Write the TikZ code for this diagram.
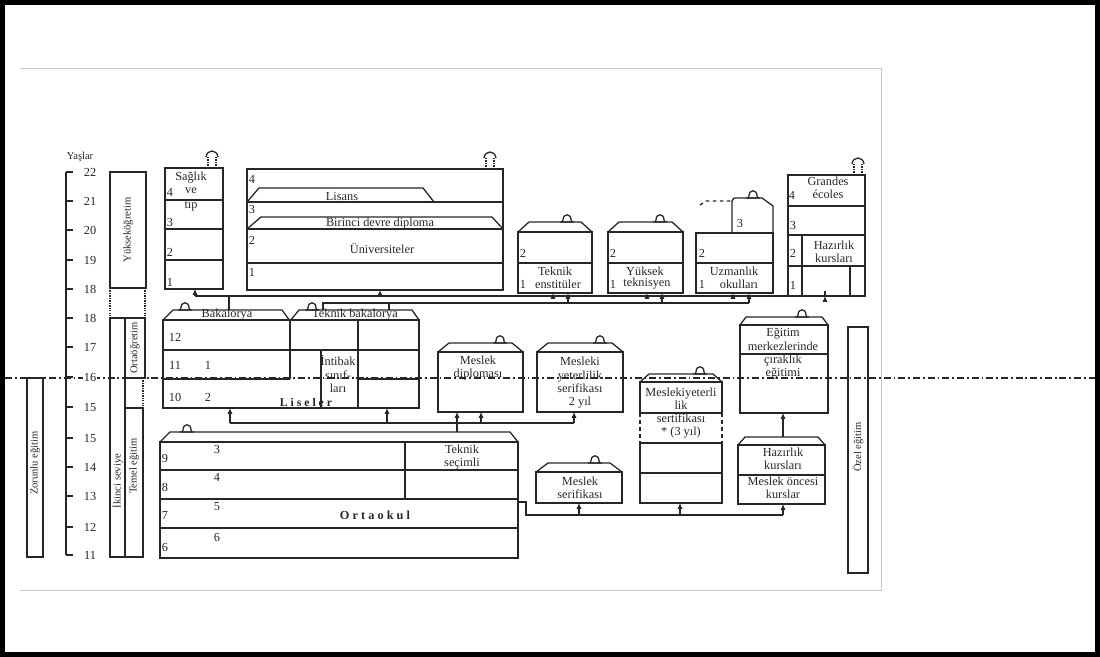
\documentclass[tikz,border=0pt]{standalone}
\usepackage{fontspec}
\setmainfont{Liberation Serif}
\usetikzlibrary{arrows.meta,positioning,calc,fit}

\begin{document}
\begin{tikzpicture}[
    x=0.03cm, y=-0.03cm,
    font=\fontsize{10.5}{11.4}\selectfont,
    ink/.style={draw=black!85, line width=1.1pt},
    box/.style={ink, inner sep=0pt, outer sep=0pt},
    hid/.style={inner sep=0pt, outer sep=0pt},
    arr/.style={ink, -{Latex[length=5pt,width=4.5pt]}},
    lbl/.style={inner sep=0pt, text=black!85, align=center},
    side/.style={lbl, rotate=90, font=\fontsize{9}{9}\selectfont},
    page/.style={draw=black!22, line width=0.6pt},
    dots/.style={ink, densely dotted},
    age16/.style={ink, line width=1.2pt, dash pattern=on 6pt off 2.5pt on 1.5pt off 2.5pt}
  ]
    \useasboundingbox (0,0) rectangle (1100,657);
    \draw[line width=4.2pt] (2.5,2.5) rectangle (1097.5,654.5);
    % edges of the scanned page
    \draw[page] (20,68) -- (881,68) -- (881,590) -- (20,590);

    % age scale
    \node[lbl, font=\fontsize{9}{9}\selectfont] (yas) at (80,157) {Yaşlar};
    \draw[ink] (66,172) -- (66,555);
    \draw[age16] (5,378) -- (1095,378);
    \foreach \y/\a [count=\i] in {172/22,201/21,230/20,260/19,289/18,318/18,347/17,
        377/16,407/15,438/15,467/14,496/13,527/12,555/11} {
      \draw[ink] (66,\y) -- (73,\y);
      \node[lbl, fill=white, inner sep=1pt] (age\i) at (90,\y) {\a};
    }

    % levels on the left and right
    \node[box, fit={(110,172) (146,288)}] (ykt) {};
    \node[side] (ykt-t) at (ykt.center) {Yükseköğretim};
    \draw[dots] (110,288) -- (110,318) (145,288) -- (145,318);
    \node[box, fit={(110,318) (125,557)}] (iki) {};
    \node[side] (iki-t) at (117.5,481) {İkinci seviye};
    \node[box, fit={(125,318) (145,378)}] (ort) {};
    \node[side] (ort-t) at (ort.center) {Ortaöğretim};
    \draw[dots] (143,378) -- (143,408);
    \node[box, fit={(125,408) (143,557)}] (tem) {};
    \node[side] (tem-t) at (134,466) {Temel eğitim};
    \node[box, fit={(27,378) (43,557)}] (zor) {};
    \node[side] (zor-t) at (35,463) {Zorunlu eğitim};
    \node[box, fit={(848,327) (868,573)}] (ozel) {};
    \node[side] (ozel-t) at (858,447) {Özel eğitim};

    % higher education
    \node[box, fit={(165,168) (223,289)}] (sag) {};
    \draw[ink] (165,200) -- (223,200) (165,229) -- (223,229) (165,260) -- (223,260);
    \node[lbl] (sag-t) at (191,178) {Sağlık};
    \node[lbl] (sag-ve) at (191,191) {ve};
    \node[lbl] (sag-tip) at (191,206) {tıp};
    \node[lbl] (sag4) at (170,192) {4};
    \node[lbl] (sag3) at (170,222) {3};
    \node[lbl] (sag2) at (170,252) {2};
    \node[lbl] (sag1) at (170,282) {1};

    \node[box, fit={(247,169) (503,290)}] (uni) {};
    \draw[ink] (247,202) -- (503,202) (247,229) -- (503,229) (247,263) -- (503,263);
    \draw[ink] (247,202) -- (259,188) -- (423,188) -- (434,202);
    \draw[ink] (247,229) -- (261,217) -- (492,217) -- (503,229);
    \node[lbl] (uni4) at (252,179) {4};
    \node[lbl] (uni3) at (252,209) {3};
    \node[lbl] (uni2) at (252,240) {2};
    \node[lbl] (uni1) at (252,272) {1};
    \node[lbl] (lis) at (342,196) {Lisans};
    \node[lbl] (bdd) at (380,224) {Birinci devre diploma};
    \node[lbl] (uni-t) at (382,249) {Üniversiteler};

    \node[box, fit={(518,232) (592,293)}] (tek) {};
    \node[box, fit={(608,232) (683,293)}] (yuk) {};
    \node[box, fit={(696,233) (773,293)}] (uzm) {};
    \draw[ink] (518,263) -- (592,263) (608,263) -- (683,263) (696,263) -- (773,263);
    \node[lbl] (tek2) at (523,253) {2};
    \node[lbl] (tek1) at (523,284) {1};
    \node[lbl] (tek-t) at (555,271) {Teknik};
    \node[lbl] (tek-u) at (558,284) {enstitüler};
    \node[lbl] (yuk2) at (613,253) {2};
    \node[lbl] (yuk1) at (613,284) {1};
    \node[lbl] (yuk-t) at (645,271) {Yüksek};
    \node[lbl] (yuk-u) at (647,284) {teknisyen};
    \node[lbl] (uzm2) at (702,253) {2};
    \node[lbl] (uzm1) at (702,284) {1};
    \node[lbl] (uzm-t) at (734,271) {Uzmanlık};
    \node[lbl] (uzm-u) at (739,284) {okulları};
    \draw[ink, dashed] (700,205) -- (706,201) -- (732,201);
    \draw[ink] (732,233) -- (732,201) -- (734,198) -- (762,198) -- (773,206) -- (773,233);
    \node[lbl] (uzm3) at (740,223) {3};

    \node[box, fit={(788,175) (865,296)}] (gra) {};
    \draw[ink] (788,206) -- (865,206) (788,235) -- (865,235) (788,266) -- (865,266)
      (802,235) -- (802,296) (850,266) -- (850,296);
    \node[lbl] (gra-t) at (828,188) {Grandes\\écoles};
    \node[lbl] (gra4) at (792,195) {4};
    \node[lbl] (gra3) at (793,225) {3};
    \node[lbl] (gra2) at (793,253) {2};
    \node[lbl] (gra1) at (793,285) {1};
    \node[lbl] (gra-h) at (834,252) {Hazırlık\\kursları};

    % secondary education
    \node[box, fit={(163,320) (419,408)}] (lise) {};
    \draw[ink] (lise.north west) -- (173,310) -- (282,310) -- (290,321) -- (299,310)
      -- (412,310) -- (lise.north east);
    \draw[ink] (163,350) -- (419,350) (163,379) -- (290,379) (358,379) -- (419,379)
      (290,321) -- (290,379) (321,350) -- (321,408) (358,320) -- (358,408);
    \node[lbl, anchor=base] (bak) at (227,318) {Bakalorya};
    \node[lbl, anchor=base] (tbak) at (355,318) {Teknik bakalorya};
    \node[lbl] (l12) at (175,337) {12};
    \node[lbl] (l11) at (175,365) {11};
    \node[lbl] (l10) at (175,397) {10};
    \node[lbl] (ly1) at (208,365) {1};
    \node[lbl] (ly2) at (208,397) {2};
    \node[lbl] (int) at (338,374) {İntibak\\sınıf-\\ları};
    \node[lbl, font=\bfseries\fontsize{10}{11}\selectfont] (lis-t) at (306,402) {L i s e l e r};

    \node[box, fit={(160,442) (518,558)}] (orta) {};
    \draw[ink] (orta.north west) -- (170,432) -- (510,432) -- (orta.north east);
    \draw[ink] (160,470) -- (518,470) (160,499) -- (518,499) (160,528) -- (518,528)
      (405,442) -- (405,499);
    \foreach \y/\g/\z/\k in {458/9/449/3, 487/8/477/4, 515/7/507/5, 547/6/537/6} {
      \node[lbl] (og\g) at (165,\y) {\g};
      \node[lbl] (oy\k) at (217,\z) {\k};
    }
    \node[lbl, font=\bfseries\fontsize{10.5}{11}\selectfont] (orta-t) at (375,515) {O r t a o k u l};
    \node[lbl] (tsec) at (462,457) {Teknik\\seçimli};

    % vocational branches
    \node[box, fit={(438,352) (523,412)}] (mdip) {};
    \node[lbl] (mdip-t) at (478,368) {Meslek\\diploması};
    \node[box, fit={(537,352) (623,412)}] (myet) {};
    \node[lbl] (myet-t) at (580,383) {Mesleki\\yeterlilik\\serifikası\\2 yıl};
    \node[hid, fit={(640,382) (722,503)}] (myet3) {};
    \draw[ink] (640,413) -- (640,382) -- (722,382) -- (722,413)
      (640,443) -- (640,503) -- (722,503) -- (722,443)
      (640,413) -- (722,413) (640,443) -- (722,443) (640,473) -- (722,473);
    \draw[ink, dashed] (640,413) -- (640,443) (722,413) -- (722,443);
    \node[lbl] (myet3-a) at (681,399) {Meslekiyeterli\\lik};
    \node[lbl] (myet3-b) at (681,426) {sertifikası\\* (3 yıl)};
    \node[box, fit={(740,325) (828,413)}] (egt) {};
    \draw[ink] (740,354) -- (828,354);
    \node[lbl] (egt-t) at (783,354) {Eğitim\\merkezlerinde\\çıraklık\\eğitimi};
    \node[box, fit={(738,445) (825,504)}] (hzr) {};
    \draw[ink] (738,475) -- (825,475);
    \node[lbl] (hzr-t) at (783,459) {Hazırlık\\kursları};
    \node[lbl] (hzr-u) at (783,488) {Meslek öncesi\\kurslar};
    \node[box, fit={(536,472) (622,503)}] (mser) {};
    \node[lbl] (mser-t) at (580,488) {Meslek\\serifikası};

    \foreach \n/\d/\h in {tek/11/10, yuk/11/10, mdip/11/9, myet/11/9, myet3/9/8,
        egt/6/8, hzr/7/8, mser/12/9}
      \draw[ink] (\n.north west) -- ++(\d,-\h) -- ([shift={(-\d,-\h)}]\n.north east)
        -- (\n.north east);

    % exits
    \foreach \x/\y in {185/310, 312/310, 187/432, 567/222, 660/222, 753/198,
        500/343, 600/343, 700/374, 802/317, 595/463}
      \draw[ink] (\x-7,\y) -- (\x+7,\y) (\x-5,\y) -- (\x-4,\y-2) .. controls (\x-4,\y-9) and (\x+4,\y-9) .. (\x+4,\y-2) -- (\x+5,\y);
    \foreach \x/\y in {212/168, 490/169, 858/175} {
      \draw[dots] (\x-4,\y) -- (\x-4,\y-12) (\x+4,\y) -- (\x+4,\y-12);
      \draw[ink] (\x-6,\y-11) .. controls (\x-5,\y-19) and (\x+5,\y-19) .. (\x+6,\y-11);
    }

    % links
    \coordinate (la0) at (195,296);
    \coordinate (la1) at (825,296);
    \coordinate (lb0) at (323,303);
    \coordinate (lb1) at (749,303);
    \coordinate (lc0) at (230,423);
    \coordinate (lc1) at (574,423);
    \coordinate (ld0) at (526,515);
    \coordinate (ld1) at (783,515);
    \draw[ink] (la0) -- (la1) (229,296) -- (229,310);
    \draw[ink] (323,310) -- (lb0) -- (lb1) (389,303) -- (389,310);
    \draw[ink] (lc0) -- (lc1);
    \draw[ink] (orta.east |- 0,502) -- (526,502) -- (ld0) -- (ld1);
    \foreach \x/\n in {195/sag, 380/uni, 553/tek, 647/yuk, 733/uzm, 825/gra}
      \draw[arr] (\x,296) -- (\x,0 |- \n.south);
    \foreach \x/\n in {568/tek, 662/yuk, 749/uzm}
      \draw[arr] (\x,303) -- (\x,0 |- \n.south);
    \foreach \x/\n in {230/lise, 387/lise, 481/mdip, 574/myet}
      \draw[arr] (\x,423) -- (\x,0 |- \n.south);
    \foreach \x/\n in {579/mser, 680/myet3, 783/hzr}
      \draw[arr] (\x,515) -- (\x,0 |- \n.south);
    \draw[arr] (457,432) -- (457,0 |- mdip.south);
    \draw[arr] (783,437) -- (783,0 |- egt.south);
\end{tikzpicture}
\end{document}
